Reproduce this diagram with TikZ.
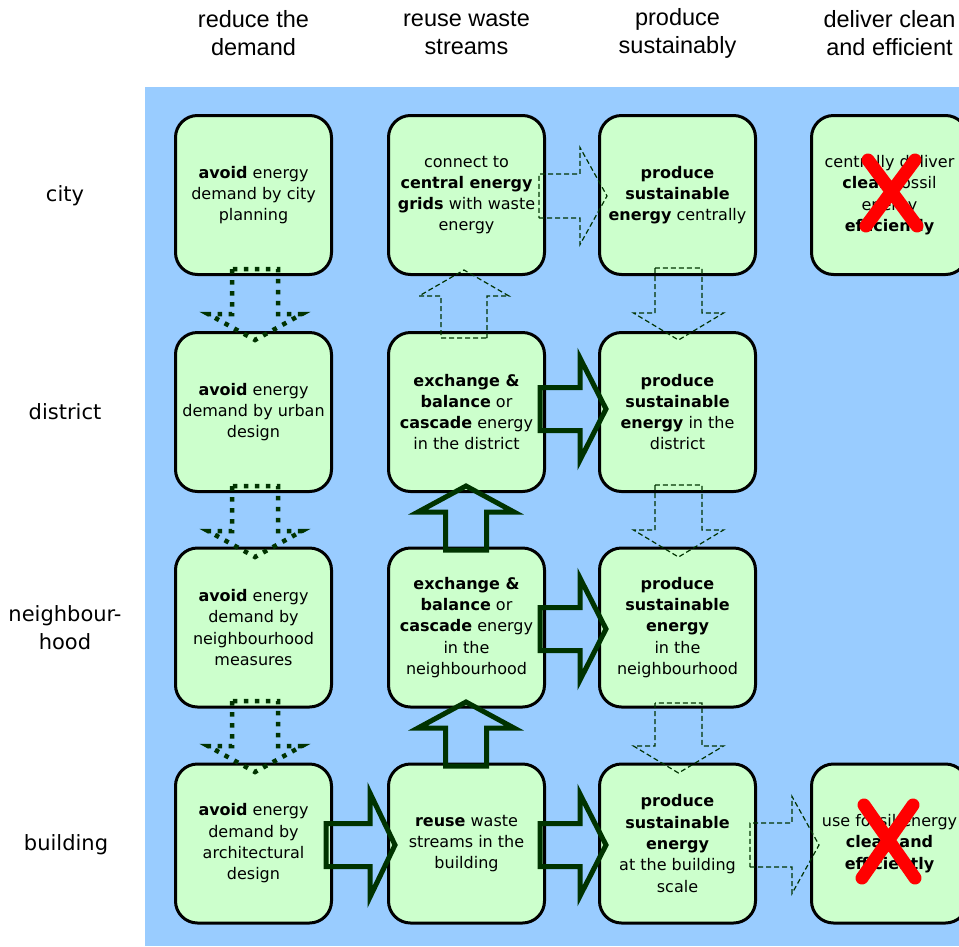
\documentclass[tikz,border=0pt]{standalone}
\usepackage{fontspec}
\setmainfont{DejaVu Sans}
\newfontfamily\headfont{Liberation Sans}
\definecolor{bgblue}{HTML}{99CCFF}
\definecolor{boxgreen}{HTML}{CCFFCC}
\definecolor{arrgreen}{HTML}{003300}
% #1 style, #2 start, #3 angle, #4 length, #5 shaft half width, #6 head half width, #7 head length
\newcommand\blockarr[7]{\draw[#1,shift={#2},rotate=#3] (0,#5) -- ({#4-#7},#5) -- ({#4-#7},#6) -- (#4,0) -- ({#4-#7},-#6) -- ({#4-#7},-#5) -- (0,-#5) -- cycle;}
\begin{document}
\begin{tikzpicture}[x=1pt,y=-1pt,
  box/.style={draw=black, line width=3pt, fill=boxgreen, rounded corners=22pt,
    minimum width=156pt, minimum height=159pt, align=center, inner sep=0pt,
    font=\fontsize{16}{21.3}\selectfont},
  headlbl/.style={font=\headfont\fontsize{23.5}{28}\selectfont, align=center},
  rowlbl/.style={font=\fontsize{21}{28}\selectfont, align=center},
  dotarr/.style={draw=arrgreen, line width=4.5pt, dash pattern=on 4.5pt off 6.5pt},
  dasharr/.style={draw=arrgreen, line width=1.2pt, dash pattern=on 5pt off 3pt},
  solidarr/.style={draw=arrgreen, line width=5pt, line join=miter},
  cross/.style={draw=red, line width=13pt, line cap=round}]
\useasboundingbox (0,0) rectangle (959,946);
\fill[white] (0,0) rectangle (959,946);
\fill[bgblue] (145,87) rectangle (959,946);

% headers
\node[headlbl] (h1) at (253.5,33) {reduce the\\demand};
\node[headlbl] (h2) at (466.5,33) {reuse waste\\streams};
\node[headlbl] (h3) at (677.5,33) {produce\\sustainably};
\node[headlbl] (h4) at (889.5,33) {deliver clean\\and efficient};

% row labels
\node[rowlbl] (r1) at (65,196) {city};
\node[rowlbl] (r2) at (65,412) {district};
\node[rowlbl] (r3) at (65,628) {neighbour-\\hood};
\node[rowlbl] (r4) at (66,845) {building};

% boxes
\node[box] (c1) at (253.5,195) {\textbf{avoid} energy\\demand by city\\planning};
\node[box] (c2) at (466.5,195) {connect to\\\textbf{central energy}\\\textbf{grids} with waste\\energy};
\node[box] (c3) at (677.5,195) {\textbf{produce}\\\textbf{sustainable}\\\textbf{energy} centrally};
\node[box] (c4) at (889.5,195) {centrally deliver\\\textbf{clean} fossil\\energy\\\textbf{efficiently}};

\node[box] (d1) at (253.5,412) {\textbf{avoid} energy\\demand by urban\\design};
\node[box] (d2) at (466.5,412) {\textbf{exchange \&}\\\textbf{balance} or\\\textbf{cascade} energy\\in the district};
\node[box] (d3) at (677.5,412) {\textbf{produce}\\\textbf{sustainable}\\\textbf{energy} in the\\district};

\node[box] (n1) at (253.5,627.5) {\textbf{avoid} energy\\demand by\\neighbourhood\\measures};
\node[box] (n2) at (466.5,627.5) {\textbf{exchange \&}\\\textbf{balance} or\\\textbf{cascade} energy\\in the\\neighbourhood};
\node[box] (n3) at (677.5,627.5) {\textbf{produce}\\\textbf{sustainable}\\\textbf{energy}\\in the\\neighbourhood};

\node[box] (b1) at (253.5,843.5) {\textbf{avoid} energy\\demand by\\architectural\\design};
\node[box] (b2) at (466.5,843.5) {\textbf{reuse} waste\\streams in the\\building};
\node[box] (b3) at (677.5,843.5) {\textbf{produce}\\\textbf{sustainable}\\\textbf{energy}\\at the building\\scale};
\node[box] (b4) at (889.5,843.5) {use fossil energy\\\textbf{clean and}\\\textbf{efficiently}};

% dotted arrows, column 1
\blockarr{dotarr}{(255,269)}{-90}{71}{23}{47}{26}
\blockarr{dotarr}{(255,486)}{-90}{71}{23}{47}{26}
\blockarr{dotarr}{(255,701)}{-90}{71}{23}{47}{26}

% dashed arrows
\blockarr{dasharr}{(539,196)}{0}{68}{22}{48.5}{27}
\blockarr{dasharr}{(750,845)}{0}{69}{22}{48.5}{27}
\blockarr{dasharr}{(464,338)}{90}{68}{23}{45}{26}
\blockarr{dasharr}{(678.5,268)}{-90}{72}{23.5}{45}{27}
\blockarr{dasharr}{(678.5,485)}{-90}{72}{23.5}{45}{27}
\blockarr{dasharr}{(678.5,703)}{-90}{70}{23.5}{45}{27}

% solid thick arrows
\blockarr{solidarr}{(326,845)}{0}{69}{21.5}{52}{25}
\blockarr{solidarr}{(540,409)}{0}{66}{21.5}{51}{26}
\blockarr{solidarr}{(540,629)}{0}{66}{21.5}{51}{26}
\blockarr{solidarr}{(540,845)}{0}{66}{21.5}{51}{26}
\blockarr{solidarr}{(466,550)}{90}{64}{20.5}{48}{26}
\blockarr{solidarr}{(466,766)}{90}{64}{20.5}{48}{26}

% red crosses
\draw[cross] (868,160) -- (917,226) (915,160) -- (866,226);
\draw[cross] (864,805) -- (915,878) (913,805) -- (862,878);
\end{tikzpicture}
\end{document}
